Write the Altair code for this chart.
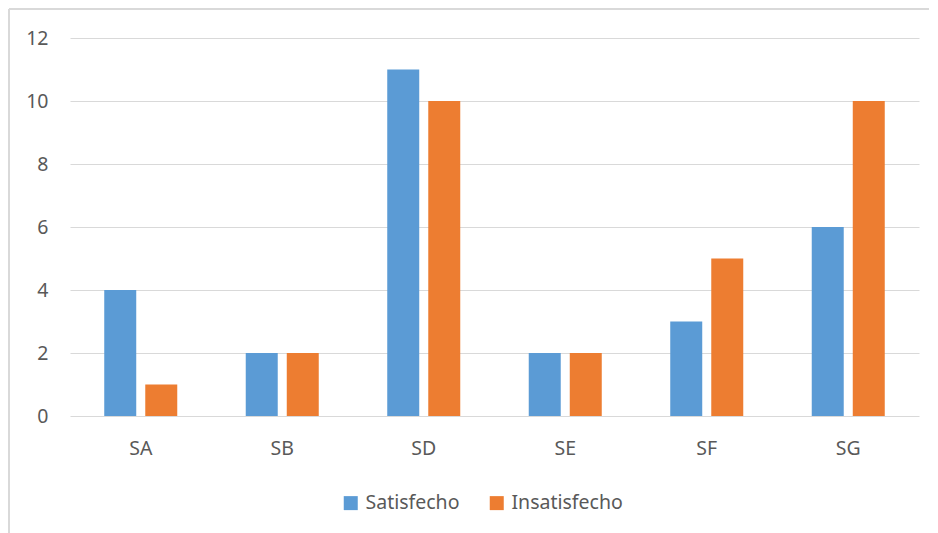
import altair as alt
import pandas as pd

categories = ["SA", "SB", "SD", "SE", "SF", "SG"]
satisfecho = [4, 2, 11, 2, 3, 6]
insatisfecho = [1, 2, 10, 2, 5, 10]
series = ["Satisfecho", "Insatisfecho"]
colors = ["#5B9BD5", "#ED7D31"]
y_ticks = [0, 2, 4, 6, 8, 10, 12]

rows = []
for c, s, i in zip(categories, satisfecho, insatisfecho):
    rows.append({"cat": c, "serie": series[0], "val": s})
    rows.append({"cat": c, "serie": series[1], "val": i})
df = pd.DataFrame(rows)

W, H = 849, 378
FONT = "Noto Sans"
FS = 19.5

bars = alt.Chart(df).mark_bar().encode(
    x=alt.X("cat:N", sort=categories, title=None,
            scale=alt.Scale(paddingInner=0.484, paddingOuter=0.242),
            axis=alt.Axis(labelAngle=0, domain=False, ticks=False, grid=False, labelPadding=23,
                          labelFontSize=FS, labelColor="#595959", labelFont=FONT)),
    xOffset=alt.XOffset("serie:N", sort=series,
                        scale=alt.Scale(paddingInner=0.22, paddingOuter=0)),
    y=alt.Y("val:Q", title=None,
            scale=alt.Scale(domain=[0, 12], nice=False),
            axis=alt.Axis(values=y_ticks, domain=False, ticks=False, labelPadding=22,
                          labelFontSize=FS, labelColor="#595959", labelFont=FONT,
                          gridColor="#d9d9d9", gridWidth=1)),
    color=alt.Color("serie:N", sort=series, title=None,
                    scale=alt.Scale(domain=series, range=colors),
                    legend=alt.Legend(orient="none", direction="horizontal",
                                      legendX=271, legendY=455,
                                      symbolType="square", symbolSize=196,
                                      symbolStrokeWidth=0, labelOffset=5,
                                      columnPadding=27, labelFontSize=FS,
                                      labelColor="#595959", labelFont=FONT)),
)

border = alt.Chart(df).mark_rule(color="#d9d9d9", strokeWidth=1.5).encode(
    x=alt.value(-61), y=alt.value(-29), y2=alt.value(H + 200)
)
border_top = alt.Chart(df).mark_rule(color="#d9d9d9", strokeWidth=1.5).encode(
    x=alt.value(-61), x2=alt.value(W + 200), y=alt.value(-29)
)

chart = alt.layer(border, border_top, bars).properties(
    width=W, height=H,
    background="white",
    autosize=alt.AutoSizeParams(type="none"),
    padding={"left": 62, "top": 30, "right": 10, "bottom": 117},
).configure_view(strokeWidth=0, stroke="transparent")

chart.save("out.html", embed_options={"renderer": "svg", "actions": False})
